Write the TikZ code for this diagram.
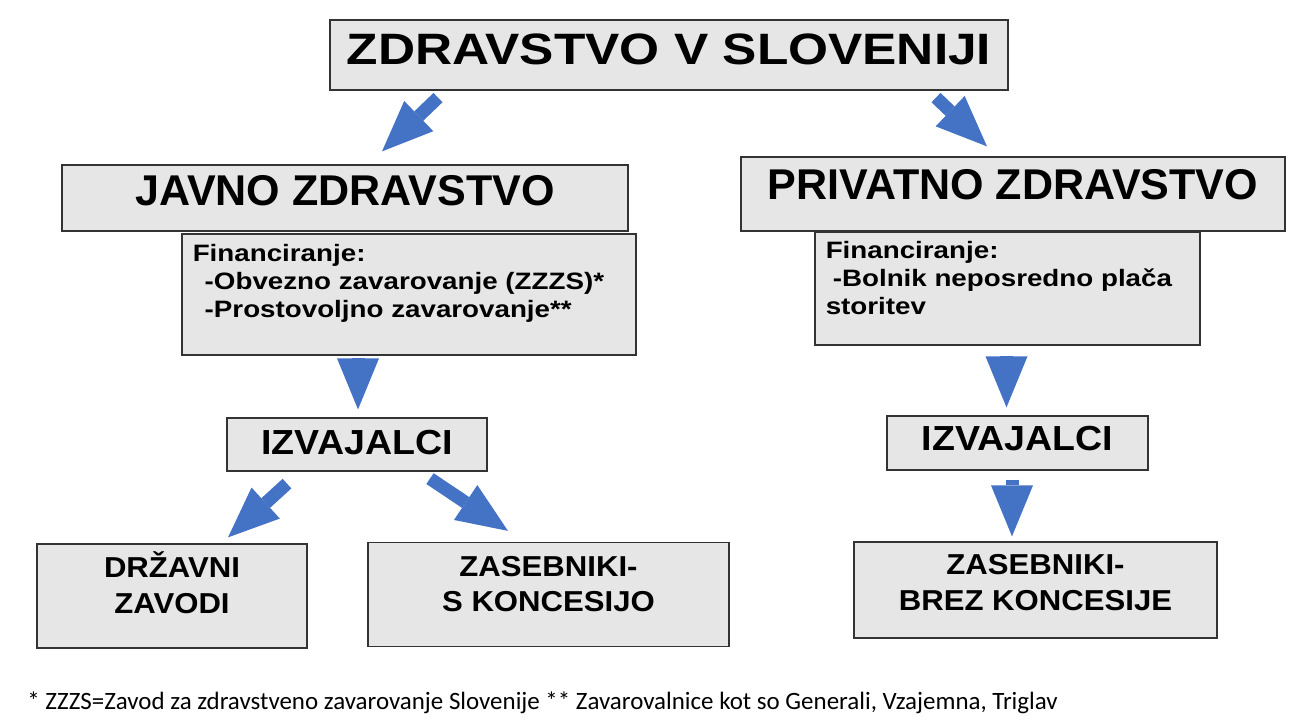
\documentclass[tikz,border=0pt]{standalone}
\usepackage{fontspec}
\setmainfont{Liberation Sans}
\newfontfamily\titlefont[FakeStretch=1.17]{Liberation Sans}
\newfontfamily\midfont[FakeStretch=1.08]{Liberation Sans}
\newfontfamily\finfont[FakeStretch=1.17]{Liberation Sans}
\newfontfamily\notefont{Carlito}
\usetikzlibrary{arrows.meta}
\definecolor{flowblue}{HTML}{4472C4}
\definecolor{boxgray}{HTML}{E6E6E6}
\tikzset{
  box/.style={draw=black!80, fill=boxgray, line width=0.7pt, inner sep=0pt},
  lbl/.style={inner sep=0pt, align=center},
  finlbl/.style={inner sep=0pt, align=left, anchor=north west,
    font=\finfont\bfseries\fontsize{13.5}{16}\selectfont},
  flow/.style={draw=flowblue, line width=0.26cm,
    -{Triangle[width=0.84cm,length=1.02cm,line width=0pt]}},
}

\begin{document}
\begin{tikzpicture}[x=0.02cm,y=-0.02cm]
  \useasboundingbox (0,0) rectangle (1306,720);
  % top
  \node[box, minimum width=13.56cm, minimum height=1.40cm,
    label={[lbl, yshift=0.12cm, font=\titlefont\bfseries\fontsize{25}{28}\selectfont]center:ZDRAVSTVO V SLOVENIJI}] (title) at (669,55) {};
  % public side
  \node[box, minimum width=11.32cm, minimum height=1.32cm,
    label={[lbl, yshift=0.15cm, font=\bfseries\fontsize{24.5}{28}\selectfont]center:JAVNO ZDRAVSTVO}] (javno) at (345,198) {};
  \node[box, minimum width=9.08cm, minimum height=2.42cm,
    label={[finlbl, xshift=0.22cm, yshift=-0.21cm]north west:{Financiranje:\\\hspace*{6.8pt}-Obvezno zavarovanje (ZZZS)*\\\hspace*{6.8pt}-Prostovoljno zavarovanje**}}] (javfin) at (409,294.5) {};
  \node[box, minimum width=5.20cm, minimum height=1.06cm,
    label={[lbl, yshift=0.04cm, font=\midfont\bfseries\fontsize{19.8}{23}\selectfont]center:IZVAJALCI}] (izvjav) at (357,444.5) {};
  \node[box, minimum width=5.40cm, minimum height=2.08cm,
    label={[lbl, yshift=0.26cm, font=\midfont\bfseries\fontsize{16.4}{20.4}\selectfont]center:{DRŽAVNI\\ZAVODI}}] (drzavni) at (172,596) {};
  \node[box, minimum width=7.22cm, minimum height=2.08cm,
    label={[lbl, yshift=0.21cm, font=\midfont\bfseries\fontsize{16.4}{20.4}\selectfont]center:{ZASEBNIKI-\\S KONCESIJO}}] (zaskon) at (548.5,594.5) {};
  % private side
  \node[box, minimum width=10.88cm, minimum height=1.48cm,
    label={[lbl, yshift=0.18cm, font=\bfseries\fontsize{24.5}{28}\selectfont]center:PRIVATNO ZDRAVSTVO}] (privat) at (1013,194) {};
  \node[box, minimum width=7.70cm, minimum height=2.26cm,
    label={[finlbl, xshift=0.22cm, yshift=-0.19cm]north west:{Financiranje:\\\hspace*{4pt}-Bolnik neposredno plača\\storitev}}] (privfin) at (1007.5,288.5) {};
  \node[box, minimum width=5.22cm, minimum height=1.08cm,
    label={[lbl, yshift=0.08cm, font=\midfont\bfseries\fontsize{19.8}{23}\selectfont]center:IZVAJALCI}] (izvpriv) at (1017.5,443) {};
  \node[box, minimum width=7.26cm, minimum height=1.92cm,
    label={[lbl, yshift=0.15cm, font=\midfont\bfseries\fontsize{16.4}{20.4}\selectfont]center:{ZASEBNIKI-\\BREZ KONCESIJE}}] (zasbrez) at (1035.5,590) {};
  % footnote
  \node[anchor=base west, inner sep=0pt, font=\notefont\fontsize{14.2}{16}\selectfont] (opomba) at (27,709)
    {* ZZZS=Zavod za zdravstveno zavarovanje Slovenije ** Zavarovalnice kot so Generali, Vzajemna, Triglav};
  % arrows
  \draw[flow] ([shift={(-231,7)}]title.south) -- ([shift={(37,-13)}]javno.north);
  \draw[flow] ([shift={(267,7)}]title.south) -- ([shift={(-26,-10)}]privat.north);
  \draw[flow] ([shift={(-51,4)}]javfin.south) -- ([shift={(1,-8)}]izvjav.north);
  \draw[flow] ([shift={(-1,11)}]privfin.south) -- ([shift={(-11,-8)}]izvpriv.north);
  \draw[flow] ([shift={(-70,12)}]izvjav.south) -- ([shift={(56,-6)}]drzavni.north);
  \draw[flow] ([shift={(73,7)}]izvjav.south) -- ([shift={(-40.5,-11)}]zaskon.north);
  \draw[flow] ([shift={(-5.5,9)}]izvpriv.south) -- ([shift={(-23.5,-5)}]zasbrez.north);
\end{tikzpicture}
\end{document}
